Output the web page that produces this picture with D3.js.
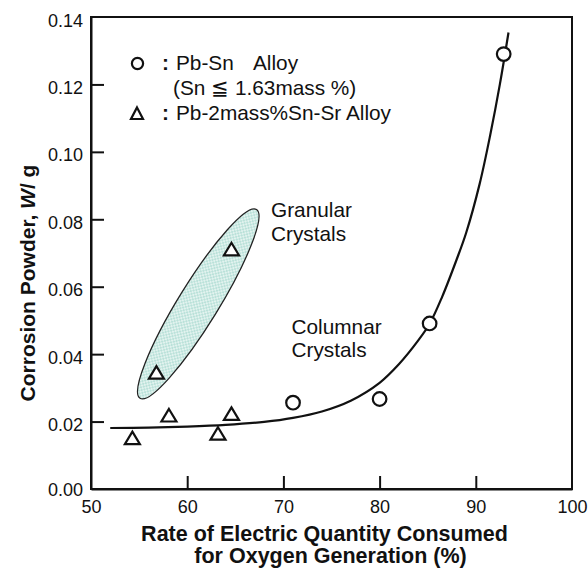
<!DOCTYPE html>
<html>
<head>
<meta charset="utf-8">
<script src="https://cdn.jsdelivr.net/npm/d3@7"></script>
<style>
  html, body { margin: 0; padding: 0; background: #fff; }
  svg { display: block; }
  text { font-family: "Liberation Sans", Arial, Helvetica, sans-serif; fill: #111; }
</style>
</head>
<body>
<script>
// Pb-Sn alloys: rate of electric quantity for O2 (%) vs corrosion powder (g)
const pbSnX = [71.0, 80.0, 85.2, 92.9];
const pbSnY = [0.0256, 0.0267, 0.0491, 0.1290];

// Pb-2mass%Sn-Sr alloys
const pbSrX = [54.3, 58.1, 63.2, 64.6, 56.8, 64.6];
const pbSrY = [0.0151, 0.0218, 0.0164, 0.0223, 0.0345, 0.0711];

// trend curve traced through the data
const fitX = [52, 56, 60, 64, 68, 71, 74, 77, 80, 82, 84, 85.2, 86.5, 88, 89, 90.4, 91.5, 92.5, 93.4];
const fitY = [0.0181, 0.0182, 0.0185, 0.0190, 0.0199, 0.0211, 0.0230, 0.0262, 0.0315, 0.0370, 0.0440, 0.0490, 0.0570, 0.0680, 0.0760, 0.0905, 0.1050, 0.1200, 0.1354];

// granular-crystal region: ends of the long axis (data units)
const regionTipA = [55.1, 0.0269];
const regionTipB = [67.2, 0.0829];

const xTicks = [50, 60, 70, 80, 90, 100];
const yTicks = [0, 0.02, 0.04, 0.06, 0.08, 0.10, 0.12, 0.14];

const W = 588, H = 568;
const m = { left: 91, right: 16, top: 17, bottom: 79 };

const svg = d3.select("body").append("svg").attr("width", W).attr("height", H);

const x = d3.scaleLinear().domain([50, 100]).range([m.left, W - m.right]);
const y = d3.scaleLinear().domain([0, 0.14]).range([H - m.bottom, m.top]);

// dotted fill for the granular region
const defs = svg.append("defs");
const pat = defs.append("pattern").attr("id", "dots")
  .attr("patternUnits", "userSpaceOnUse").attr("width", 4).attr("height", 4);
pat.append("rect").attr("width", 4).attr("height", 4).attr("fill", "#e2f3ef");
pat.append("circle").attr("cx", 1).attr("cy", 1).attr("r", 0.75).attr("fill", "#7fc6b9");
pat.append("circle").attr("cx", 3).attr("cy", 3).attr("r", 0.75).attr("fill", "#7fc6b9");

// frame
svg.append("rect")
  .attr("x", x(50)).attr("y", y(0.14))
  .attr("width", x(100) - x(50)).attr("height", y(0) - y(0.14))
  .attr("fill", "none").attr("stroke", "#111").attr("stroke-width", 2);

// axes with inward ticks
const xAxis = d3.axisBottom(x).tickValues(xTicks).tickSizeInner(-13).tickSizeOuter(0).tickPadding(6)
  .tickFormat(d3.format("d"));
const gx = svg.append("g").attr("transform", `translate(0,${y(0)})`).call(xAxis);
gx.select(".domain").attr("stroke", "#111").attr("stroke-width", 2);
gx.selectAll(".tick line").attr("stroke", "#111").attr("stroke-width", 2);
gx.selectAll(".tick text").attr("font-size", 18).attr("dy", "1.0em").attr("fill", "#111");

const yAxis = d3.axisLeft(y).tickValues(yTicks).tickSizeInner(-13).tickSizeOuter(0).tickPadding(8)
  .tickFormat(d3.format(".2f"));
const gy = svg.append("g").attr("transform", `translate(${x(50)},0)`).call(yAxis);
gy.select(".domain").attr("stroke", "#111").attr("stroke-width", 2);
gy.selectAll(".tick line").attr("stroke", "#111").attr("stroke-width", 2)
  .filter(d => d === 0 || d === 0.14).remove();
gy.selectAll(".tick text").attr("font-size", 18).attr("fill", "#111").attr("dy", "0.5em");
gy.selectAll(".tick text").filter(d => d === 0).attr("dy", "0.35em");
gx.selectAll(".tick line").filter(d => d === 50 || d === 100).remove();
[gx, gy].forEach(g => g.selectAll("text").attr("font-family", null));

// granular region ellipse
const ax = x(regionTipA[0]), ay = y(regionTipA[1]);
const bx = x(regionTipB[0]), by = y(regionTipB[1]);
const cx = (ax + bx) / 2, cy = (ay + by) / 2;
const semiMajor = Math.hypot(bx - ax, by - ay) / 2;
const ang = Math.atan2(by - ay, bx - ax) * 180 / Math.PI;
svg.append("ellipse")
  .attr("cx", 0).attr("cy", 0).attr("rx", semiMajor).attr("ry", 20)
  .attr("transform", `translate(${cx},${cy}) rotate(${ang})`)
  .attr("fill", "url(#dots)").attr("stroke", "#222").attr("stroke-width", 1.3);

// trend curve
const fit = fitX.map((v, i) => [v, fitY[i]]);
svg.append("path")
  .attr("d", d3.line().x(d => x(d[0])).y(d => y(d[1])).curve(d3.curveCatmullRom.alpha(0.5))(fit))
  .attr("fill", "none").attr("stroke", "#111").attr("stroke-width", 2.2);

// markers
const triPath = "M0,-6.5L7.5,6L-7.5,6Z";
svg.append("g").selectAll("path").data(pbSrX.map((v, i) => [v, pbSrY[i]])).join("path")
  .attr("d", triPath)
  .attr("transform", d => `translate(${x(d[0])},${y(d[1])})`)
  .attr("fill", "#fff").attr("stroke", "#111").attr("stroke-width", 2.2)
  .attr("stroke-linejoin", "miter");

svg.append("g").selectAll("circle").data(pbSnX.map((v, i) => [v, pbSnY[i]])).join("circle")
  .attr("cx", d => x(d[0])).attr("cy", d => y(d[1])).attr("r", 6.8)
  .attr("fill", "#fff").attr("stroke", "#111").attr("stroke-width", 2.2);

// legend
const lg = svg.append("g").attr("font-size", 20.8);
lg.append("circle").attr("cx", 137.5).attr("cy", 63.5).attr("r", 5.6)
  .attr("fill", "none").attr("stroke", "#111").attr("stroke-width", 2.2);
lg.append("text").attr("x", 165.5).attr("y", 69.5).attr("text-anchor", "middle")
  .attr("font-weight", "bold").text(":");
lg.append("text").attr("x", 176).attr("y", 69.5).text("Pb-Sn");
lg.append("text").attr("x", 253).attr("y", 69.5).text("Alloy");
lg.append("text").attr("x", 173).attr("y", 94.5).text("(Sn ≦ 1.63mass %)");
lg.append("path").attr("d", "M0,-6L6,5.5L-6,5.5Z")
  .attr("transform", "translate(137,113.5)")
  .attr("fill", "none").attr("stroke", "#111").attr("stroke-width", 2.2);
lg.append("text").attr("x", 165.5).attr("y", 119.5).attr("text-anchor", "middle")
  .attr("font-weight", "bold").text(":");
lg.append("text").attr("x", 176).attr("y", 119.5).text("Pb-2mass%Sn-Sr Alloy");

// region labels
const ann = svg.append("g").attr("font-size", 20.8);
ann.append("text").attr("x", 271).attr("y", 217).text("Granular");
ann.append("text").attr("x", 271).attr("y", 240.5).text("Crystals");
ann.append("text").attr("x", 291.5).attr("y", 333.5).text("Columnar");
ann.append("text").attr("x", 291.5).attr("y", 357).text("Crystals");

// axis titles
const xt = svg.append("text").attr("text-anchor", "middle").attr("font-weight", "bold").attr("font-size", 21.5);
xt.append("tspan").attr("x", (x(50) + x(100)) / 2 - 7).attr("y", 541).text("Rate of Electric Quantity Consumed");
xt.append("tspan").attr("x", (x(50) + x(100)) / 2 - 1).attr("y", 563).text("for Oxygen Generation (%)");

const yt = svg.append("text").attr("text-anchor", "middle").attr("font-weight", "bold").attr("font-size", 21)
  .attr("transform", "translate(35,283) rotate(-90)");
yt.append("tspan").text("Corrosion Powder, ");
yt.append("tspan").attr("font-style", "italic").text("W");
yt.append("tspan").text("/ g");
</script>
</body>
</html>
